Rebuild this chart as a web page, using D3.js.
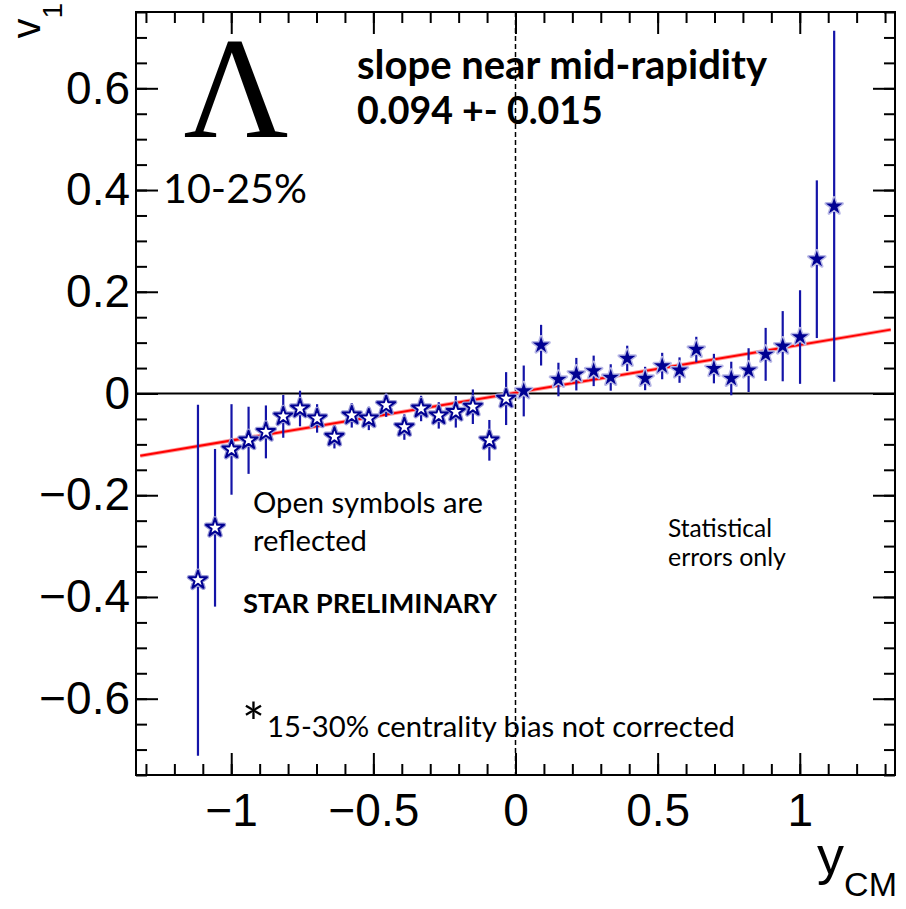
<!DOCTYPE html>
<html>
<head>
<meta charset="utf-8">
<script src="https://cdn.jsdelivr.net/npm/d3@7"></script>
<style>
  html, body { margin: 0; padding: 0; background: #fff; }
  svg { display: block; }
</style>
</head>
<body>
<svg id="chart" width="906" height="909"></svg>
<script>
// ---------------- data ----------------
const filledX   = [0.029, 0.090, 0.151, 0.214, 0.275, 0.335, 0.393, 0.456, 0.516, 0.577, 0.636, 0.698, 0.759, 0.820, 0.880, 0.940, 1.001, 1.060, 1.121];
const filledV1  = [0.005, 0.095, 0.0275, 0.038, 0.0445, 0.0315, 0.069, 0.0295, 0.054, 0.046, 0.0865, 0.049, 0.0295, 0.046, 0.077, 0.093, 0.111, 0.264, 0.368];
const filledErr = [0.050, 0.040, 0.033, 0.032, 0.030, 0.026, 0.025, 0.023, 0.026, 0.025, 0.025, 0.029, 0.033, 0.043, 0.052, 0.069, 0.092, 0.155, 0.345];

const openX   = [-0.033, -0.092, -0.150, -0.210, -0.270, -0.332, -0.391, -0.455, -0.516, -0.576, -0.637, -0.698, -0.758, -0.817, -0.878, -0.939, -0.999, -1.057, -1.117];
const openV1  = [-0.010, -0.092, -0.026, -0.036, -0.043, -0.0295, -0.066, -0.023, -0.049, -0.043, -0.085, -0.049, -0.0295, -0.045, -0.0755, -0.092, -0.110, -0.264, -0.367];
const openErr = [0.052, 0.040, 0.034, 0.031, 0.026, 0.025, 0.025, 0.023, 0.023, 0.024, 0.023, 0.028, 0.035, 0.042, 0.052, 0.066, 0.089, 0.155, 0.345];

const fitSlope = 0.094;
const fitIntercept = 0.0015;
const fitRange = [-1.32, 1.32];

const xMajorTicks = [-1, -0.5, 0, 0.5, 1];
const xTickLabels = ["\u22121", "\u22120.5", "0", "0.5", "1"];
const yMajorTicks = [-0.6, -0.4, -0.2, 0, 0.2, 0.4, 0.6];
const yTickLabels = ["\u22120.6", "\u22120.4", "\u22120.2", "0", "0.2", "0.4", "0.6"];
const xMinorTicks = d3.range(-13, 14).map(d => d / 10);
const yMinorTicks = d3.range(-15, 16).map(d => d / 20);

// ---------------- layout ----------------
const L = 136, R = 895, T = 12, B = 775;
const svg = d3.select("#chart");
const x = d3.scaleLinear().domain([-1.335, 1.335]).range([L, R]);
const y = d3.scaleLinear().domain([-0.75, 0.75]).range([B, T]);

const tickFont = "'Liberation Sans', Arial, sans-serif";
const textFont = "Lato, 'Open Sans', sans-serif";

// ---------------- axes ----------------
function styleAxis(g) {
  g.select(".domain").remove();
  g.selectAll(".tick line").attr("stroke", "#000").attr("stroke-width", 2);
  g.selectAll("text").attr("fill", "#000").attr("font-family", tickFont);
}
const MAJ = 22, MIN = 11;
// bottom
svg.append("g").attr("transform", `translate(0,${B})`)
  .call(d3.axisBottom(x).tickValues(xMinorTicks).tickSize(-MIN).tickFormat(""))
  .call(styleAxis);
svg.append("g").attr("transform", `translate(0,${B})`)
  .call(d3.axisBottom(x).tickValues(xMajorTicks).tickSize(-MAJ).tickPadding(18)
        .tickFormat((d, i) => xTickLabels[i]))
  .call(styleAxis)
  .call(g => g.selectAll("text").attr("font-size", 46));
// top
svg.append("g").attr("transform", `translate(0,${T})`)
  .call(d3.axisTop(x).tickValues(xMinorTicks).tickSize(-MIN).tickFormat(""))
  .call(styleAxis);
svg.append("g").attr("transform", `translate(0,${T})`)
  .call(d3.axisTop(x).tickValues(xMajorTicks).tickSize(-MAJ).tickFormat(""))
  .call(styleAxis);
// left
svg.append("g").attr("transform", `translate(${L},0)`)
  .call(d3.axisLeft(y).tickValues(yMinorTicks).tickSize(-MIN).tickFormat(""))
  .call(styleAxis);
svg.append("g").attr("transform", `translate(${L},0)`)
  .call(d3.axisLeft(y).tickValues(yMajorTicks).tickSize(-MAJ).tickPadding(6)
        .tickFormat((d, i) => yTickLabels[i]))
  .call(styleAxis)
  .call(g => g.selectAll("text").attr("font-size", 46));
// right
svg.append("g").attr("transform", `translate(${R},0)`)
  .call(d3.axisRight(y).tickValues(yMinorTicks).tickSize(-MIN).tickFormat(""))
  .call(styleAxis);
svg.append("g").attr("transform", `translate(${R},0)`)
  .call(d3.axisRight(y).tickValues(yMajorTicks).tickSize(-MAJ).tickFormat(""))
  .call(styleAxis);

// frame
svg.append("rect").attr("x", L).attr("y", T).attr("width", R - L).attr("height", B - T)
  .attr("fill", "none").attr("stroke", "#000").attr("stroke-width", 2);

// zero line & dashed vertical
svg.append("line").attr("x1", L).attr("x2", R).attr("y1", y(0)).attr("y2", y(0))
  .attr("stroke", "#000").attr("stroke-width", 2);
svg.append("line").attr("x1", x(0)).attr("x2", x(0)).attr("y1", T).attr("y2", B)
  .attr("stroke", "#000").attr("stroke-width", 1.5).attr("stroke-dasharray", "5,3");

// axis titles
const v1 = svg.append("text")
  .attr("transform", "translate(40,3) rotate(-90)")
  .attr("text-anchor", "end")
  .attr("font-family", tickFont).attr("font-size", 40).attr("fill", "#000");
v1.append("tspan").text("v");
v1.append("tspan").attr("font-size", 28).attr("dy", 22).text("1");

const yt = svg.append("text")
  .attr("x", 897).attr("y", 874)
  .attr("text-anchor", "end")
  .attr("font-family", tickFont).attr("font-size", 54).attr("fill", "#000");
yt.append("tspan").text("y");
yt.append("tspan").attr("font-size", 34).attr("dy", 22).text("CM");

// ---------------- fit line ----------------
const fitPts = fitRange.map(d => [d, fitSlope * d + fitIntercept]);
const line = d3.line().x(d => x(d[0])).y(d => y(d[1]));
svg.append("path").attr("d", line(fitPts)).attr("stroke", "#ff9a9a").attr("stroke-width", 4).attr("fill", "none");
svg.append("path").attr("d", line(fitPts)).attr("stroke", "#ff0000").attr("stroke-width", 2).attr("fill", "none");

// ---------------- data ----------------
const barColor = "#1414a8";
const starColor = "#000092";
const star = d3.symbol().type(d3.symbolStar).size(85);
const starOpen = d3.symbol().type(d3.symbolStar).size(100);

function drawSeries(xs, vs, es, open) {
  const g = svg.append("g");
  g.selectAll("line.err").data(xs).join("line")
    .attr("x1", d => x(d)).attr("x2", d => x(d))
    .attr("y1", (d, i) => y(vs[i] + es[i]))
    .attr("y2", (d, i) => y(vs[i] - es[i]))
    .attr("stroke", barColor).attr("stroke-width", 2.2);
  if (open) {
    g.selectAll("path.halo").data(xs).join("path")
      .attr("d", starOpen)
      .attr("transform", (d, i) => `translate(${x(d)},${y(vs[i])})`)
      .attr("fill", "#fff").attr("stroke", "#9a9ad6").attr("stroke-width", 4.5)
      .attr("stroke-linejoin", "round");
    g.selectAll("path.mk").data(xs).join("path")
      .attr("d", starOpen)
      .attr("transform", (d, i) => `translate(${x(d)},${y(vs[i])})`)
      .attr("fill", "#fff").attr("stroke", starColor).attr("stroke-width", 2)
      .attr("stroke-linejoin", "round");
  } else {
    g.selectAll("path.halo").data(xs).join("path")
      .attr("d", star)
      .attr("transform", (d, i) => `translate(${x(d)},${y(vs[i])})`)
      .attr("fill", starColor).attr("stroke", "#b8b8e6").attr("stroke-width", 3)
      .attr("stroke-linejoin", "round");
    g.selectAll("path.mk").data(xs).join("path")
      .attr("d", star)
      .attr("transform", (d, i) => `translate(${x(d)},${y(vs[i])})`)
      .attr("fill", starColor);
  }
}
drawSeries(openX, openV1, openErr, true);
drawSeries(filledX, filledV1, filledErr, false);

// ---------------- annotations ----------------
function fitText(sel, target) {
  const w = sel.node().getComputedTextLength();
  const fs = parseFloat(sel.attr("font-size"));
  if (w > 0) sel.attr("font-size", fs * target / w);
  return sel;
}
function addText(str, xx, yy, fs, weight, target, family) {
  const t = svg.append("text").attr("x", xx).attr("y", yy)
    .attr("font-family", family || textFont).attr("font-size", fs)
    .attr("font-weight", weight).attr("fill", "#000").text(str);
  if (target) fitText(t, target);
  return t;
}
addText("\u039B", 236, 137, 145, "normal", null, "'Liberation Serif', 'Times New Roman', serif")
  .attr("text-anchor", "middle");
addText("10-25%", 163, 203, 46, "normal", 144);
addText("slope near mid-rapidity", 357, 79, 32, "bold", 410);
addText("0.094 +- 0.015", 357, 124, 32, "bold", 246);
addText("Open symbols are", 253, 513, 27, "normal", 230);
addText("reflected", 253, 551, 27, "normal", 114);
addText("STAR PRELIMINARY", 243, 613, 24, "bold", 254);
addText("Statistical", 668, 537, 21, "normal", 104);
addText("errors only", 668, 566, 21, "normal", 118);
addText("*", 242, 742, 54, "normal", null);
addText("15-30% centrality bias not corrected", 267, 737, 28, "normal", 468);
</script>
</body>
</html>
